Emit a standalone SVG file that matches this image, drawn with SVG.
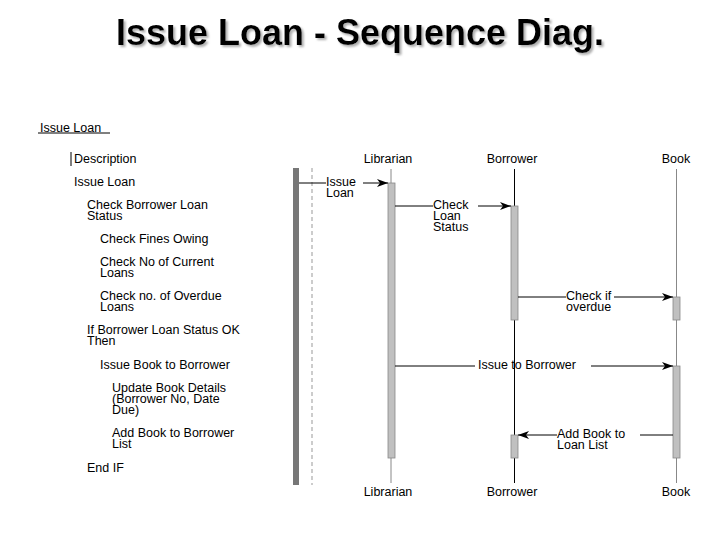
<svg xmlns="http://www.w3.org/2000/svg" width="720" height="540" viewBox="0 0 720 540">
<defs>
<style>
text{font-family:"Liberation Sans",Arial,sans-serif;font-size:12.5px;fill:#000}
.title{font-size:36px;font-weight:bold}
.life{stroke:#888;stroke-width:1}
.lifeb{stroke:#000;stroke-width:1}
.act{fill:#c0c0c0;stroke:#888;stroke-width:0.8}
.msg{stroke:#000;stroke-width:1;fill:none}
</style>
<filter id="shadow" x="-5%" y="-20%" width="110%" height="150%">
<feDropShadow dx="2" dy="2" stdDeviation="0.8" flood-color="#999" flood-opacity="0.8"/>
</filter>
<marker id="ah" markerWidth="12" markerHeight="10" refX="11" refY="5" orient="auto" markerUnits="userSpaceOnUse">
<path d="M0,1 L11,5 L0,9 L3,5 Z" fill="#000"/>
</marker>
</defs>
<rect width="720" height="540" fill="#fff"/>
<g id="title">
<text class="title" x="360" y="45" text-anchor="middle" filter="url(#shadow)">Issue Loan - Sequence Diag.</text>
</g>
<g id="description">
<text x="40" y="132">Issue Loan</text>
<line x1="38" y1="133" x2="110" y2="133" stroke="#000" stroke-width="1"/>
<line x1="71" y1="152" x2="71" y2="166" stroke="#000" stroke-width="1"/>
<text x="74" y="163">Description</text>
<text x="74" y="186">Issue Loan</text>
<text x="87" y="209">Check Borrower Loan</text>
<text x="87" y="220">Status</text>
<text x="100" y="243">Check Fines Owing</text>
<text x="100" y="266">Check No of Current</text>
<text x="100" y="277">Loans</text>
<text x="100" y="300">Check no. of Overdue</text>
<text x="100" y="311">Loans</text>
<text x="87" y="334">If Borrower Loan Status OK</text>
<text x="87" y="345">Then</text>
<text x="100" y="369">Issue Book to Borrower</text>
<text x="112" y="392">Update Book Details</text>
<text x="112" y="403">(Borrower No, Date</text>
<text x="112" y="414">Due)</text>
<text x="112" y="437">Add Book to Borrower</text>
<text x="112" y="448">List</text>
<text x="87" y="472">End IF</text>
</g>
<g id="actor">
<rect x="293" y="168" width="6" height="317" fill="#777"/>
<line x1="312" y1="168" x2="312" y2="485" stroke="#999" stroke-width="1" stroke-dasharray="4,3"/>
</g>
<g id="librarian">
<text x="388" y="163" text-anchor="middle">Librarian</text>
<line class="life" x1="391" y1="169" x2="391" y2="483"/>
<rect class="act" x="388" y="183" width="7" height="275"/>
<text x="388" y="496" text-anchor="middle">Librarian</text>
</g>
<g id="borrower">
<text x="512" y="163" text-anchor="middle">Borrower</text>
<line class="lifeb" x1="514.5" y1="169" x2="514.5" y2="483"/>
<rect class="act" x="511" y="206" width="7" height="114"/>
<rect class="act" x="511" y="435" width="7" height="23"/>
<text x="512" y="496" text-anchor="middle">Borrower</text>
</g>
<g id="book">
<text x="676" y="163" text-anchor="middle">Book</text>
<line class="life" x1="676.5" y1="169" x2="676.5" y2="483"/>
<rect class="act" x="673" y="297" width="7" height="23"/>
<rect class="act" x="673" y="366" width="7" height="92"/>
<text x="676" y="496" text-anchor="middle">Book</text>
</g>
<g id="connectors">
<line class="msg" x1="299" y1="183" x2="326" y2="183"/>
<line class="msg" x1="363" y1="183" x2="388" y2="183" marker-end="url(#ah)"/>
<text x="326" y="186">Issue</text>
<text x="326" y="197">Loan</text>
<line class="msg" x1="395" y1="206" x2="433" y2="206"/>
<line class="msg" x1="478" y1="206" x2="511" y2="206" marker-end="url(#ah)"/>
<text x="433" y="209">Check</text>
<text x="433" y="220">Loan</text>
<text x="433" y="231">Status</text>
<line class="msg" x1="518" y1="297" x2="566" y2="297"/>
<line class="msg" x1="614" y1="297" x2="673" y2="297" marker-end="url(#ah)"/>
<text x="566" y="300">Check if</text>
<text x="566" y="311">overdue</text>
<line class="msg" x1="395" y1="366" x2="475" y2="366"/>
<line class="msg" x1="591" y1="366" x2="673" y2="366" marker-end="url(#ah)"/>
<text x="478" y="369">Issue to Borrower</text>
<line class="msg" x1="673" y1="435" x2="640" y2="435"/>
<line class="msg" x1="557" y1="435" x2="518" y2="435" marker-end="url(#ah)"/>
<text x="557" y="438">Add Book to</text>
<text x="557" y="449">Loan List</text>
</g>
</svg>
